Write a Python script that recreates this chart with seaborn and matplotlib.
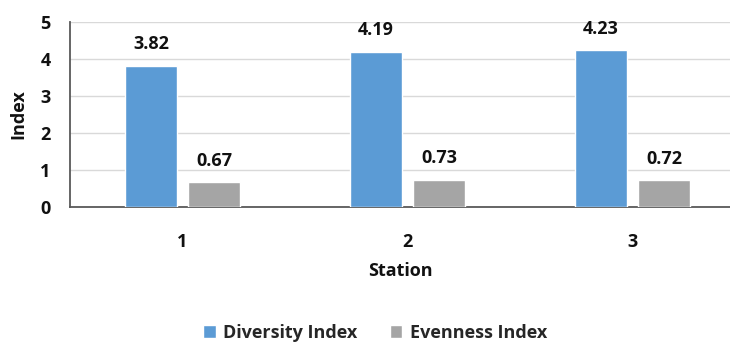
import matplotlib
matplotlib.use("Agg")
import matplotlib.pyplot as plt
import seaborn as sns
import pandas as pd

stations = ["1", "2", "3"]
diversity = [3.82, 4.19, 4.23]
evenness = [0.67, 0.73, 0.72]
series_names = ["Diversity Index", "Evenness Index"]
palette = ["#5B9BD5", "#A5A5A5"]

df = pd.DataFrame({
    "Station": stations * 2,
    "Index": diversity + evenness,
    "Series": [series_names[0]] * 3 + [series_names[1]] * 3,
})

sns.set_theme(style="white")
plt.rcParams["font.family"] = ["Open Sans", "DejaVu Sans"]
plt.rcParams["font.weight"] = "bold"

FS = 13
TXT = "#111111"

fig = plt.figure(figsize=(7.30, 3.42), dpi=100)
ax = fig.add_axes([70 / 730, 1 - 207 / 342, 1 - 70 / 730, (207 - 22) / 342])

sns.barplot(data=df, x="Station", y="Index", hue="Series", palette=palette,
            width=0.56, gap=0.19, ax=ax, saturation=1, zorder=3, legend=True)

for container in ax.containers:
    ax.bar_label(container, fmt="%.2f", padding=9, fontsize=FS, fontweight="bold",
                 color=TXT)

ax.set_ylim(0, 5)
ax.set_yticks([0, 1, 2, 3, 4, 5])
ax.set_xlim(-0.5, 2.5 - 15 / 225)
ax.yaxis.grid(True, color="#D9D9D9", linewidth=1, zorder=0)
ax.set_axisbelow(True)

for s in ["top", "right"]:
    ax.spines[s].set_visible(False)
for s in ["left", "bottom"]:
    ax.spines[s].set_color("#595959")
    ax.spines[s].set_linewidth(1.3)

ax.tick_params(axis="both", length=0, labelsize=FS, labelcolor=TXT)
ax.tick_params(axis="x", pad=19)
ax.tick_params(axis="y", pad=14)
for lab in ax.get_xticklabels() + ax.get_yticklabels():
    lab.set_fontweight("bold")

ax.set_xlabel("Station", fontsize=FS, fontweight="bold", color=TXT, labelpad=8)
ax.set_ylabel("Index", fontsize=FS, fontweight="bold", color=TXT, labelpad=9)

handles, labels = ax.get_legend_handles_labels()
ax.legend_.remove()
fig.legend(handles, labels, loc="center", bbox_to_anchor=(375 / 730, 1 - 333 / 342),
           ncol=2, frameon=False, handlelength=0.7, handleheight=0.7,
           columnspacing=1.8, handletextpad=0.4, prop={"weight": "bold", "size": FS})

fig.savefig("out.png", dpi=100)
